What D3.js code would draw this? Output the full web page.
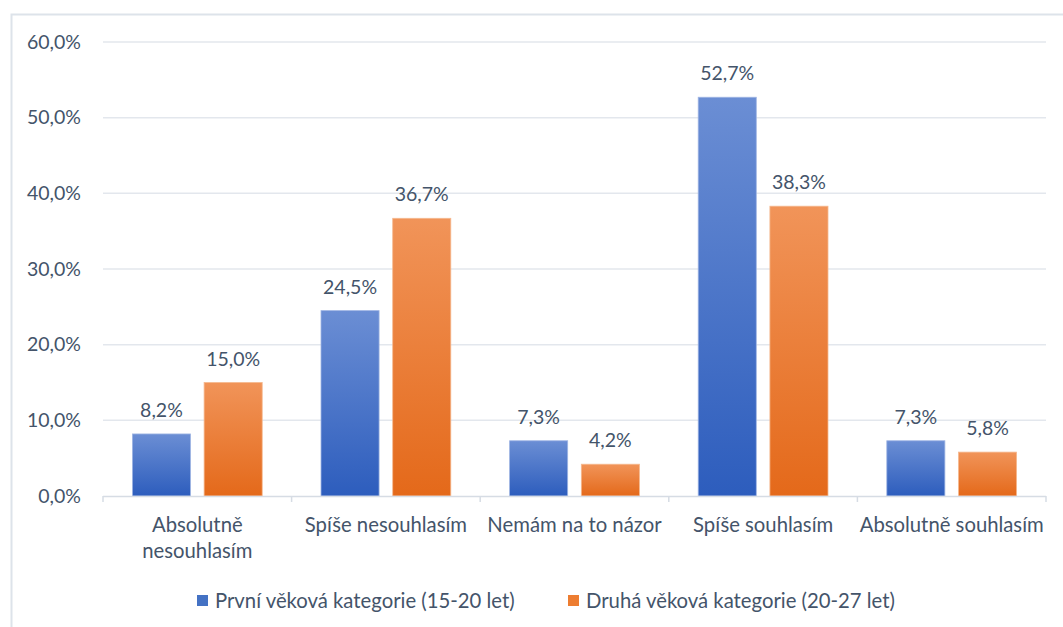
<!DOCTYPE html>
<html lang="cs">
<head>
    <meta charset="utf-8">
    <title>Věkové kategorie</title>
    <script src="https://d3js.org/d3.v7.min.js"></script>
    <style>
        body { margin: 0; background: #fff; }
        text { font-family: Lato, "Open Sans", sans-serif; fill: #44546a; }
    </style>
</head>
<body>
<svg id="chart" width="1063" height="627"></svg>
<script>
    // data
    const categories = [["Absolutně", "nesouhlasím"], ["Spíše nesouhlasím"], ["Nemám na to názor"], ["Spíše souhlasím"], ["Absolutně souhlasím"]];
    const seriesNames = ["První věková kategorie (15-20 let)", "Druhá věková kategorie (20-27 let)"];
    const firstGroup = [8.2, 24.5, 7.3, 52.7, 7.3];
    const secondGroup = [15.0, 36.7, 4.2, 38.3, 5.8];
    const yTicks = [0, 10, 20, 30, 40, 50, 60];

    const fmt = v => v.toFixed(1).replace(".", ",");

    const svg = d3.select("#chart");
    const plotLeft = 103, plotRight = 1046, plotTop = 42, plotBottom = 496;
    const numSize = 19.5, textSize = 20.3;

    // frame
    svg.append("rect")
        .attr("x", 11.5).attr("y", 14.5)
        .attr("width", 1070).attr("height", 640)
        .attr("fill", "none").attr("stroke", "#dde3ea").attr("stroke-width", 2);

    // gradients
    const defs = svg.append("defs");
    const grads = [["g0", "#6b8ed4", "#2d5dbd"], ["g1", "#f19459", "#e4691a"]];
    grads.forEach(g => {
        const lg = defs.append("linearGradient").attr("id", g[0])
            .attr("x1", 0).attr("y1", 0).attr("x2", 0).attr("y2", 1);
        lg.append("stop").attr("offset", "0%").attr("stop-color", g[1]);
        lg.append("stop").attr("offset", "100%").attr("stop-color", g[2]);
    });

    const x = d3.scaleBand().domain(d3.range(categories.length)).range([plotLeft, plotRight]);
    const xInner = d3.scaleBand().domain([0, 1]).range([0, x.bandwidth()]).paddingInner(0.19).paddingOuter(0.41);
    const y = d3.scaleLinear().domain([0, 60]).range([plotBottom, plotTop]);

    // gridlines
    svg.append("g").selectAll("line").data(yTicks.slice(1)).join("line")
        .attr("x1", plotLeft).attr("x2", plotRight)
        .attr("y1", d => y(d)).attr("y2", d => y(d))
        .attr("stroke", "#e3e7ed").attr("stroke-width", 1.5);

    // y labels
    svg.append("g").selectAll("text").data(yTicks).join("text")
        .attr("x", 81).attr("y", d => y(d)).attr("dy", "0.35em")
        .attr("text-anchor", "end").attr("font-size", numSize)
        .text(d => fmt(d) + "%");

    // bars
    const series = [firstGroup, secondGroup];
    series.forEach((vals, s) => {
        const g = svg.append("g");
        g.selectAll("rect").data(vals).join("rect")
            .attr("x", (d, i) => x(i) + xInner(s))
            .attr("y", d => y(d))
            .attr("width", xInner.bandwidth())
            .attr("height", d => y(0) - y(d))
            .attr("fill", "url(#g" + s + ")")
            .attr("stroke", s === 0 ? "#9fb5e3" : "#f5b88e").attr("stroke-width", 0.8);
        g.selectAll("text").data(vals).join("text")
            .attr("x", (d, i) => x(i) + xInner(s) + xInner.bandwidth() / 2)
            .attr("y", d => y(d) - 17)
            .attr("text-anchor", "middle").attr("font-size", numSize)
            .text(d => fmt(d) + "%");
    });

    // x axis
    svg.append("line")
        .attr("x1", plotLeft).attr("x2", plotRight).attr("y1", plotBottom + 0.5).attr("y2", plotBottom + 0.5)
        .attr("stroke", "#d6dce4").attr("stroke-width", 1.5);
    svg.append("g").selectAll("line").data(d3.range(categories.length + 1)).join("line")
        .attr("x1", i => plotLeft + i * x.bandwidth()).attr("x2", i => plotLeft + i * x.bandwidth())
        .attr("y1", plotBottom).attr("y2", plotBottom + 6)
        .attr("stroke", "#d6dce4").attr("stroke-width", 1.5);

    const cat = svg.append("g").selectAll("text").data(categories).join("text")
        .attr("x", (d, i) => x(i) + x.bandwidth() / 2)
        .attr("y", 532)
        .attr("text-anchor", "middle").attr("font-size", textSize);
    cat.each(function (d) {
        d.forEach((line, k) => {
            d3.select(this).append("tspan")
                .attr("x", d3.select(this).attr("x"))
                .attr("dy", k === 0 ? 0 : 26)
                .text(line);
        });
    });

    // legend
    const legendX = [197, 568];
    seriesNames.forEach((name, s) => {
        svg.append("rect").attr("x", legendX[s]).attr("y", 595)
            .attr("width", 11).attr("height", 11)
            .attr("fill", s === 0 ? "#4472c4" : "#ed7d31");
        svg.append("text").attr("x", legendX[s] + 18).attr("y", 601).attr("dy", "0.35em")
            .attr("font-size", textSize).text(name);
    });
</script>
</body>
</html>
